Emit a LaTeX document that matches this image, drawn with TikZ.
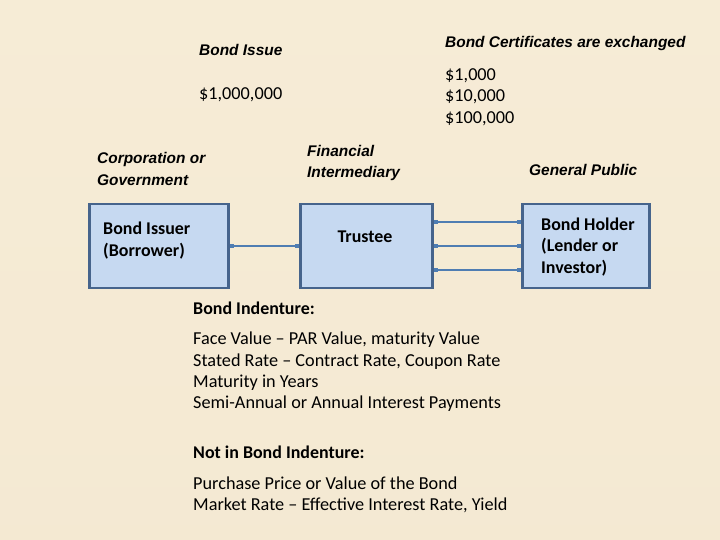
\documentclass[tikz,border=0pt]{standalone}
\usepackage{fontspec}
\setmainfont{Carlito}
\newfontfamily\labelfont{Liberation Sans}
\usepackage{xcolor}
\usepackage{tikz}
\usetikzlibrary{positioning,calc,arrows.meta}

\definecolor{bgtop}{RGB}{251,242,224}
\definecolor{bgmid}{RGB}{244,233,210}
\definecolor{bglow}{RGB}{234,220,192}
\definecolor{bgbot}{RGB}{210,194,157}
\definecolor{boxfill}{RGB}{198,217,241}
\definecolor{boxline}{RGB}{70,100,140}
\definecolor{linkline}{RGB}{79,125,178}

\pgfdeclareverticalshading{slidebg}{720bp}{color(0bp)=(bgbot); color(120bp)=(bglow); color(240bp)=(bgmid); color(420bp)=(bgtop); color(540bp)=(bgtop)}

\tikzset{
    party/.style={draw=boxline, line width=2.6pt, fill=boxfill, inner sep=0pt},
    boxtext/.style={font=\fontsize{18}{22}\selectfont\bfseries, align=left, anchor=west, inner sep=0pt},
    role/.style={font=\fontsize{15.5}{22}\selectfont\labelfont\bfseries\itshape, align=left, anchor=west, inner sep=0pt},
    plain/.style={font=\fontsize{18.3}{21.4}\selectfont, align=left, anchor=west, inner sep=0pt},
    heading/.style={font=\fontsize{18}{21.4}\selectfont\bfseries, align=left, anchor=west, inner sep=0pt},
    link/.style={draw=linkline, line width=1.8pt, {Square[length=3.6pt,width=3.6pt]}-{Square[length=3.6pt,width=3.6pt]}}
}

\begin{document}
\begin{tikzpicture}[x=1bp, y=-1bp]
    % background
    \shade[shading=slidebg] (0,0) rectangle (720,540);
    \useasboundingbox (0,0) rectangle (720,540);

    % amounts
    \node[role] (issue) at (199,50) {Bond Issue};
    \node[plain] (issueamt) at (199,95) {\$1,000,000};
    \node[role] (certs) at (445,44) {Bond Certificates are exchanged};
    \node[plain] (certamt) at (445,97) {\$1,000\\\$10,000\\\$100,000};

    % who is who
    \node[role] (corp) at (97,169) {Corporation or\\Government};
    \node[role] (fin) at (307,163) {Financial\\Intermediary};
    \node[role] (public) at (529,170) {General Public};

    % parties
    \node[party, minimum width=140, minimum height=84] (issuer) at (159,246) {};
    \node[party, minimum width=133, minimum height=84] (trustee) at (366.5,246) {};
    \node[party, minimum width=128, minimum height=84] (holder) at (586,246) {};
    \node[boxtext] (issuertxt) at (103,241) {Bond Issuer\\(Borrower)};
    \node[boxtext, anchor=center] (trusteetxt) at (365,237) {Trustee};
    \node[boxtext] (holdertxt) at (541,247) {Bond Holder\\(Lender or\\Investor)};

    \draw[link] (issuer.east) -- (trustee.west);
    \draw[link] ([yshift=-24bp]trustee.east) -- ([yshift=-24bp]holder.west);
    \draw[link] (trustee.east) -- (holder.west);
    \draw[link] ([yshift=24bp]trustee.east) -- ([yshift=24bp]holder.west);

    % indenture
    \node[heading] (ind) at (193,308) {Bond Indenture:};
    \node[plain] (indlist) at (193,372) {Face Value -- PAR Value, maturity Value\\Stated Rate -- Contract Rate, Coupon Rate\\Maturity in Years\\Semi-Annual or Annual Interest Payments};
    \node[heading] (notind) at (193,452) {Not in Bond Indenture:};
    \node[plain] (notlist) at (193,494.5) {Purchase Price or Value of the Bond\\Market Rate -- Effective Interest Rate, Yield};
\end{tikzpicture}
\end{document}
